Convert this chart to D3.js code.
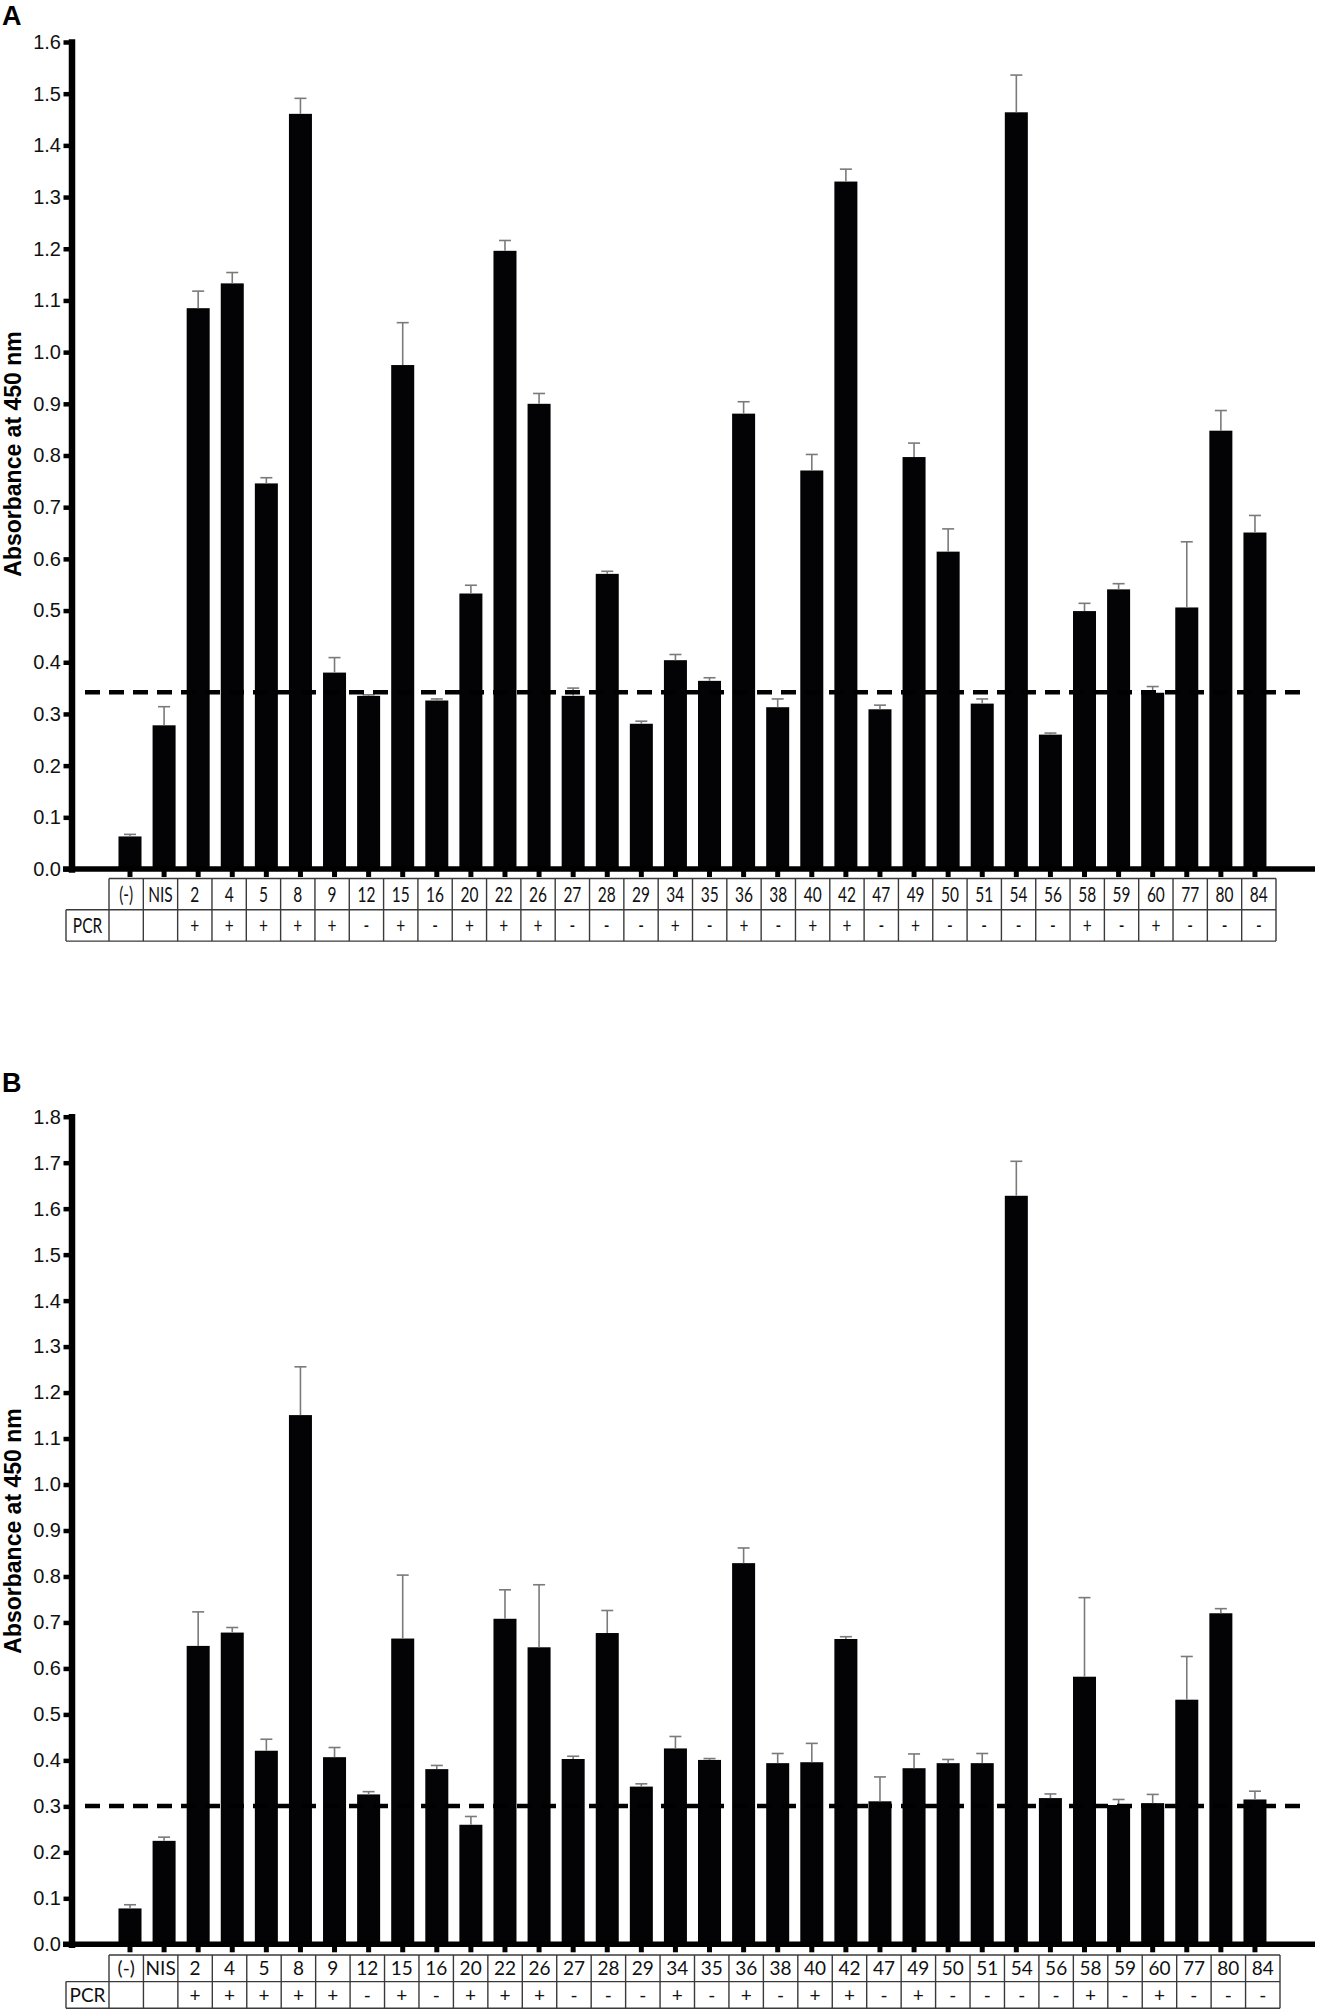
<!DOCTYPE html>
<html><head><meta charset="utf-8">
<script src="https://cdn.jsdelivr.net/npm/d3@7"></script>
<style>body{margin:0;background:#fff}</style>
</head><body><svg id="c" width="1318" height="2011"></svg>
<script>
const categories = ["(-)","NIS","2","4","5","8","9","12","15","16","20","22","26","27","28","29","34","35","36","38","40","42","47","49","50","51","54","56","58","59","60","77","80","84"];
const pcrResults = ["","","+","+","+","+","+","-","+","-","+","+","+","-","-","-","+","-","+","-","+","+","-","+","-","-","-","-","+","-","+","-","-","-"];

const valuesA = [0.063,0.278,1.085,1.133,0.746,1.461,0.380,0.335,0.975,0.326,0.533,1.196,0.900,0.335,0.571,0.281,0.404,0.364,0.881,0.313,0.771,1.330,0.309,0.797,0.614,0.320,1.464,0.260,0.499,0.541,0.341,0.506,0.848,0.651];
const errorsA = [0.004,0.036,0.033,0.021,0.011,0.030,0.029,0.002,0.082,0.003,0.016,0.020,0.020,0.015,0.005,0.005,0.011,0.006,0.023,0.016,0.031,0.024,0.008,0.027,0.044,0.009,0.072,0.003,0.015,0.011,0.012,0.127,0.039,0.033];

const valuesB = [0.078,0.225,0.649,0.678,0.421,1.151,0.407,0.326,0.665,0.381,0.260,0.708,0.646,0.403,0.677,0.343,0.426,0.401,0.829,0.394,0.396,0.664,0.311,0.383,0.394,0.394,1.628,0.318,0.582,0.303,0.307,0.532,0.720,0.315];
const errorsB = [0.008,0.008,0.074,0.011,0.025,0.105,0.021,0.006,0.138,0.008,0.018,0.063,0.136,0.006,0.049,0.006,0.026,0.003,0.033,0.021,0.041,0.005,0.053,0.031,0.008,0.021,0.075,0.009,0.172,0.012,0.019,0.094,0.010,0.018];

const yTicksA = [0.0,0.1,0.2,0.3,0.4,0.5,0.6,0.7,0.8,0.9,1.0,1.1,1.2,1.3,1.4,1.5,1.6];
const yTicksB = [0.0,0.1,0.2,0.3,0.4,0.5,0.6,0.7,0.8,0.9,1.0,1.1,1.2,1.3,1.4,1.5,1.6,1.7,1.8];
const cutoffA = 0.342;
const cutoffB = 0.301;
const yTitle = "Absorbance at 450 nm";
const rowLabel = "PCR";

const svg = d3.select("#c");

function panel(cfg){
  const g = svg.append("g");
  const y = d3.scaleLinear().domain([0, cfg.ymax]).range([cfg.y0, cfg.yTop]);
  const x = d3.scaleBand().domain(categories).range([112.95, 1272]).paddingInner(0.325).paddingOuter(0.1625);
  const cx = c => x(c) + x.bandwidth()/2;

  // panel letter
  g.append("text").attr("x", 2).attr("y", cfg.letterY).text(cfg.letter)
    .attr("font-family","Liberation Sans, Arial, sans-serif").attr("font-weight","bold").attr("font-size",27);

  // y title
  g.append("text").attr("transform",`translate(21,${cfg.titleY}) rotate(-90)`)
    .attr("text-anchor","middle").text(yTitle)
    .attr("font-family","Liberation Sans, Arial, sans-serif").attr("font-weight","bold").attr("font-size",23);

  // bars
  g.selectAll("rect.bar").data(cfg.values).join("rect").attr("class","bar")
    .attr("x",(d,i)=>x(categories[i])).attr("width",x.bandwidth())
    .attr("y",d=>y(d)).attr("height",d=>cfg.y0 - y(d)).attr("fill","#030305");

  // error bars (upper)
  const eb = g.selectAll("g.err").data(cfg.values).join("g").attr("class","err")
    .attr("stroke","#7a7a7a").attr("stroke-width",1.6);
  eb.append("line").attr("x1",(d,i)=>cx(categories[i])).attr("x2",(d,i)=>cx(categories[i]))
    .attr("y1",d=>y(d)).attr("y2",(d,i)=>y(d+cfg.errors[i]));
  eb.append("line").attr("x1",(d,i)=>cx(categories[i])-6).attr("x2",(d,i)=>cx(categories[i])+6)
    .attr("y1",(d,i)=>y(d+cfg.errors[i])).attr("y2",(d,i)=>y(d+cfg.errors[i]));

  // cutoff dashed line
  g.append("line").attr("x1",85).attr("x2",cfg.dashEnd).attr("y1",y(cfg.cutoff)).attr("y2",y(cfg.cutoff))
    .attr("stroke","#000").attr("stroke-width",4.5).attr("stroke-dasharray","15,9");

  // x axis line
  g.append("line").attr("x1",63).attr("x2",1315).attr("y1",cfg.y0).attr("y2",cfg.y0)
    .attr("stroke","#000").attr("stroke-width",5.5);
  // x ticks
  const xa = g.append("g").attr("transform",`translate(0,${cfg.y0})`)
    .call(d3.axisBottom(x).tickSize(8).tickSizeOuter(0).tickFormat(""));
  xa.select(".domain").remove();
  xa.selectAll(".tick line").attr("stroke","#000").attr("stroke-width",5);

  // y axis
  const ya = g.append("g").attr("transform","translate(71.5,0)")
    .call(d3.axisLeft(y).tickValues(cfg.ticks).tickFormat(d3.format(".1f")).tickSize(8).tickSizeOuter(0).tickPadding(2.5));
  ya.select(".domain").attr("stroke","#000").attr("stroke-width",6.5).attr("stroke-linecap","square");
  ya.selectAll(".tick line").attr("stroke","#000").attr("stroke-width",4.5);
  ya.selectAll(".tick text").attr("font-family","Liberation Sans, Arial, sans-serif").attr("font-size",20).attr("fill","#111");

  // table
  const t = d3.scaleBand().domain(categories).range([109, cfg.tableRight]);
  const r0 = cfg.tTop, r1 = cfg.tTop + cfg.rowH, r2 = cfg.tTop + 2*cfg.rowH;
  const tg = g.append("g").attr("stroke","#3a3a3a").attr("stroke-width",1.4);
  tg.append("line").attr("x1",109).attr("x2",cfg.tableRight).attr("y1",r0).attr("y2",r0);
  tg.append("line").attr("x1",66).attr("x2",cfg.tableRight).attr("y1",r1).attr("y2",r1);
  tg.append("line").attr("x1",66).attr("x2",cfg.tableRight).attr("y1",r2).attr("y2",r2);
  tg.append("line").attr("x1",66).attr("x2",66).attr("y1",r1).attr("y2",r2);
  tg.selectAll("line.v").data(categories.concat(["_end"])).join("line").attr("class","v")
    .attr("x1",c=>c==="_end"?cfg.tableRight:t(c)).attr("x2",c=>c==="_end"?cfg.tableRight:t(c))
    .attr("y1",r0).attr("y2",r2);

  const fs = cfg.tFont;
  const textG = g.append("g").attr("font-family","Lato, 'Open Sans', sans-serif").attr("font-size",fs).attr("fill","#111").attr("text-anchor","middle");
  textG.selectAll("text.h").data(categories).join("text").attr("class","h")
    .attr("transform",c=>`translate(${t(c)+t.bandwidth()/2},${(r0+r1)/2 + 0.36*fs}) scale(${cfg.tScale},1)`)
    .text(c=>c);
  textG.selectAll("text.p").data(pcrResults).join("text").attr("class","p")
    .attr("transform",(p,i)=>`translate(${t(categories[i])+t.bandwidth()/2},${(r1+r2)/2 + 0.36*fs}) scale(${cfg.tScale},1)`)
    .text(p=>p);
  textG.append("text").attr("transform",`translate(${(66+109)/2},${(r1+r2)/2 + 0.36*fs}) scale(${cfg.tScale},1)`).text(rowLabel);
}

panel({letter:"A", letterY:25, titleY:454, values:valuesA, errors:errorsA, ymax:1.6, y0:869, yTop:42,
  ticks:yTicksA, cutoff:cutoffA, dashEnd:1308, tableRight:1276, tTop:878.5, rowH:31.3, tFont:21.5, tScale:0.72});
panel({letter:"B", letterY:1092, titleY:1531, values:valuesB, errors:errorsB, ymax:1.8, y0:1944.3, yTop:1116.7,
  ticks:yTicksB, cutoff:cutoffB, dashEnd:1305, tableRight:1280, tTop:1955, rowH:26.6, tFont:19, tScale:1});
</script>
</body></html>
